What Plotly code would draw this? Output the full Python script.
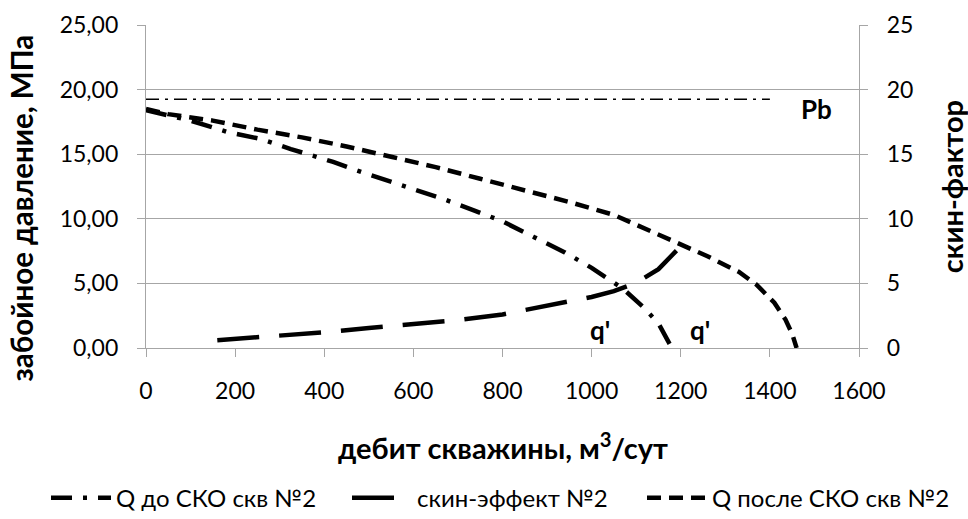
import plotly.graph_objects as go

# --- data ---
q_before_x = [0, 100, 184, 255, 325, 375, 420, 464, 530, 600, 670, 740, 800, 870, 940, 1000, 1070, 1115, 1150, 1180]
q_before_p = [18.4, 17.6, 16.7, 16.2, 15.4, 14.9, 14.4, 13.85, 13.1, 12.3, 11.5, 10.6, 9.8, 8.6, 7.4, 6.2, 4.6, 3.2, 1.9, 0.0]

skin_x = [160, 300, 400, 500, 600, 700, 800, 900, 1000, 1050, 1100, 1150, 1195]
skin_s = [0.6, 0.95, 1.22, 1.55, 1.87, 2.17, 2.6, 3.25, 3.95, 4.4, 5.05, 6.1, 7.7]

q_after_x = [0, 50, 150, 250, 350, 450, 550, 650, 750, 850, 950, 1050, 1130, 1200, 1260, 1330, 1370, 1410, 1435, 1450, 1460]
q_after_p = [18.5, 18.1, 17.6, 16.9, 16.3, 15.6, 14.8, 14.0, 13.1, 12.2, 11.3, 10.3, 9.1, 8.0, 7.1, 5.9, 4.9, 3.5, 2.2, 1.1, 0.0]

pb_x = [0, 1400]
pb_p = [19.25, 19.25]

names = ["Q до СКО скв №2", "скин-эффект №2", "Q после СКО скв №2"]
y_left_ticks = [0, 5, 10, 15, 20, 25]
y_left_text = ["0,00", "5,00", "10,00", "15,00", "20,00", "25,00"]
x_ticks = [0, 200, 400, 600, 800, 1000, 1200, 1400, 1600]

FONT = "Lato, sans-serif"
GRID = "#a6a6a6"

fig = go.Figure()
fig.add_trace(go.Scatter(x=pb_x, y=pb_p, mode="lines", showlegend=False,
                         line=dict(color="black", width=1.6, dash="13px,6px,3px,6px")))
fig.add_trace(go.Scatter(x=q_before_x, y=q_before_p, mode="lines", name=names[0], legend="legend",
                         line=dict(color="black", width=4.5, dash="21px,11px,4px,11px")))
fig.add_trace(go.Scatter(x=skin_x, y=skin_s, mode="lines", name=names[1], yaxis="y2", legend="legend2",
                         line=dict(color="black", width=4.5, dash="42px,20px")))
fig.add_trace(go.Scatter(x=q_after_x, y=q_after_p, mode="lines", name=names[2], legend="legend3",
                         line=dict(color="black", width=4.5, dash="14px,8px")))

axis_common = dict(zeroline=False, showline=True, linecolor=GRID, linewidth=1.3,
                   ticks="outside", ticklen=8, tickcolor=GRID, tickwidth=1.3,
                   tickfont=dict(size=23), automargin=False)

def leg(px):
    return dict(orientation="h", xref="container", yref="container",
                x=px / 968, xanchor="left", y=0.04, yanchor="middle",
                font=dict(size=24), itemwidth=60, bgcolor="rgba(0,0,0,0)")

fig.update_layout(
    width=968, height=519,
    margin=dict(l=146, r=109, t=25, b=171, autoexpand=False),
    plot_bgcolor="white", paper_bgcolor="white",
    font=dict(family=FONT, size=22, color="black"),
    xaxis=dict(range=[0, 1600], tickvals=x_ticks, showgrid=False,
               ticklabelstandoff=14, **axis_common),
    yaxis=dict(range=[0, 25], tickvals=y_left_ticks, ticktext=y_left_text,
               showgrid=True, gridcolor=GRID, gridwidth=1.3,
               ticklabelstandoff=14, **axis_common),
    yaxis2=dict(range=[0, 25], tickvals=y_left_ticks, overlaying="y", side="right",
                showgrid=False, ticklabelstandoff=14, **axis_common),
    legend=leg(46),
    legend2=leg(347),
    legend3=leg(642),
    showlegend=True,
)

fig.add_annotation(x=1504, y=18.5, xref="x", yref="y", text="<b>Pb</b>", showarrow=False,
                   font=dict(size=26))
fig.add_annotation(x=1019, y=1.4, xref="x", yref="y", text="<b>q'</b>", showarrow=False,
                   font=dict(size=26))
fig.add_annotation(x=1243, y=1.4, xref="x", yref="y", text="<b>q'</b>", showarrow=False,
                   font=dict(size=26))

# axis titles
fig.add_annotation(x=-0.174, y=0.435, xref="paper", yref="paper", textangle=-90,
                   xanchor="center", yanchor="middle",
                   text="<b>забойное давление, МПа</b>", showarrow=False, font=dict(size=29.5))
fig.add_annotation(x=1.13, y=0.5, xref="paper", yref="paper", textangle=-90,
                   xanchor="center", yanchor="middle",
                   text="<b>скин-фактор</b>", showarrow=False, font=dict(size=29))
fig.add_annotation(x=0.5, y=-0.303, xref="paper", yref="paper",
                   xanchor="center", yanchor="middle",
                   text="<b>дебит скважины, м<sup>3</sup>/сут</b>", showarrow=False, font=dict(size=29))

# remove the default 8px page margin so the figure fills the window exactly
fig.write_html("out.html", config={"displayModeBar": False},
               post_script="document.body.style.margin='0';document.body.style.overflow='hidden';")
